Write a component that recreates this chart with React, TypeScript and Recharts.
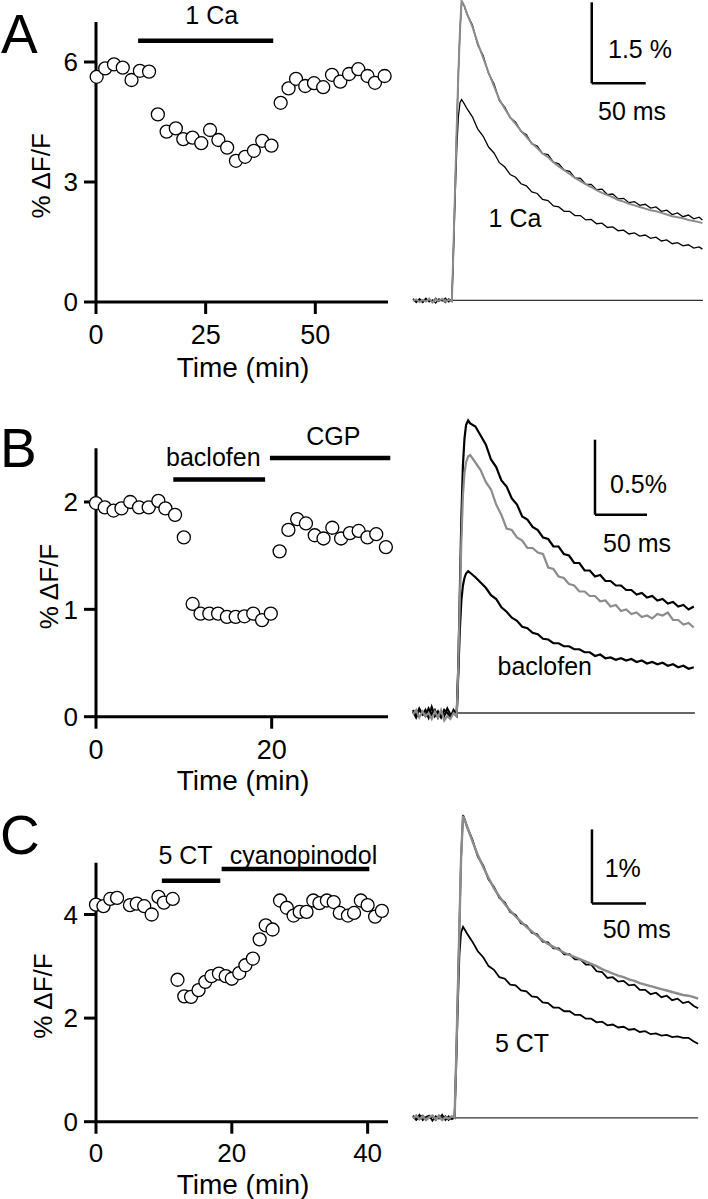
import React from 'react';
import { ScatterChart, Scatter, LineChart, Line, XAxis, YAxis, ReferenceLine, ReferenceDot } from 'recharts';

const FONT = '"Liberation Sans", Arial, Helvetica, sans-serif';

// ---------- Time courses: time (min) and % ΔF/F ----------
const minutesA = [0.15, 2.1, 4.1, 6.1, 8.1, 10.0, 12.1, 14.1, 16.1, 18.2, 19.9, 22.0, 24.0, 26.0, 27.9, 29.9, 31.9, 34.0, 36.0, 37.9, 40.0, 42.1, 43.9, 45.6, 47.7, 49.7, 51.8, 53.8, 55.7, 57.7, 59.8, 61.9, 63.6, 65.8];
const dffA = [5.63, 5.84, 5.94, 5.86, 5.55, 5.78, 5.76, 4.69, 4.26, 4.34, 4.07, 4.11, 3.97, 4.30, 4.05, 3.86, 3.53, 3.63, 3.78, 4.03, 3.91, 4.98, 5.34, 5.58, 5.40, 5.47, 5.37, 5.68, 5.51, 5.70, 5.82, 5.65, 5.48, 5.65];

const minutesB = [0, 1.0, 2.0, 2.9, 3.9, 4.9, 6.0, 7.1, 7.9, 9.0, 10.0, 11.0, 11.9, 12.9, 13.9, 14.9, 15.9, 16.9, 17.9, 18.9, 19.9, 20.9, 21.9, 22.9, 23.9, 24.9, 25.9, 26.9, 27.9, 28.9, 29.9, 30.9, 31.9, 33.0];
const dffB = [1.99, 1.95, 1.92, 1.94, 2.0, 1.95, 1.95, 2.01, 1.94, 1.88, 1.67, 1.05, 0.96, 0.96, 0.96, 0.93, 0.93, 0.935, 0.96, 0.9, 0.96, 1.54, 1.74, 1.84, 1.8, 1.69, 1.66, 1.76, 1.66, 1.71, 1.73, 1.67, 1.7, 1.58];

const minutesC = [0, 1.1, 2.1, 3.1, 5.0, 6.0, 7.1, 8.2, 9.2, 10.0, 11.3, 12.0, 13.0, 14.0, 15.1, 16.1, 17.0, 18.1, 19.1, 20.0, 21.1, 22.0, 23.1, 24.1, 25.0, 26.0, 27.1, 28.1, 29.1, 30.0, 31.0, 32.0, 32.9, 34.0, 35.0, 35.9, 37.1, 38.0, 39.0, 40.0, 41.1, 42.1];
const dffC = [4.19, 4.16, 4.3, 4.32, 4.18, 4.21, 4.16, 4.0, 4.34, 4.23, 4.3, 2.74, 2.42, 2.41, 2.54, 2.7, 2.81, 2.86, 2.81, 2.76, 2.87, 3.02, 3.15, 3.52, 3.79, 3.71, 4.27, 4.13, 3.98, 4.05, 4.05, 4.27, 4.22, 4.27, 4.24, 4.03, 3.98, 4.03, 4.27, 4.18, 3.96, 4.07];

const xTicksA = [0, 25, 50];
const yTicksA = [0, 3, 6];
const xTicksB = [0, 20];
const yTicksB = [0, 1, 2];
const xTicksC = [0, 20, 40];
const yTicksC = [0, 2, 4];

// drug bars: label, start (min), end (min), level (% ΔF/F)
const barsA = [{ label: '1 Ca', from: 9.6, to: 40.4, level: 6.53 }];
const barsB = [
  { label: 'baclofen', from: 8.8, to: 19.25, level: 2.21 },
  { label: 'CGP', from: 19.8, to: 33.5, level: 2.41 },
];
const barsC = [
  { label: '5 CT', from: 9.7, to: 18.3, level: 4.65 },
  { label: 'cyanopinodol', from: 18.5, to: 40.25, level: 4.88 },
];

// ---------- Fluorescence traces: time (ms) and % ΔF/F ----------
const traceTimeA = [0, 3, 6, 9, 12, 15, 18, 21, 24, 27, 30, 33, 36, 37.5, 39, 40.5, 42, 43.5, 45, 47.5, 50, 55, 60, 65, 70, 75, 80, 85, 90, 95, 100, 105, 110, 115, 120, 125, 130, 135, 140, 145, 150, 155, 160, 165, 170, 175, 180, 185, 190, 195, 200, 205, 210, 215, 220, 225, 230, 235, 240, 245, 250, 255, 260, 265, 268];
const controlA = [0.02, -0.04, 0.03, -0.02, 0.04, -0.03, 0.01, -0.05, 0.03, -0.01, 0.04, -0.03, 0.0, 1.0, 2.1, 3.2, 4.2, 5.0, 5.52, 5.45, 5.3, 5.1, 4.73, 4.53, 4.2, 4.01, 3.7, 3.58, 3.38, 3.3, 3.13, 3.07, 2.9, 2.86, 2.72, 2.7, 2.56, 2.53, 2.41, 2.39, 2.27, 2.26, 2.15, 2.15, 2.05, 2.06, 1.96, 1.97, 1.88, 1.89, 1.81, 1.83, 1.76, 1.78, 1.71, 1.73, 1.65, 1.67, 1.59, 1.62, 1.55, 1.58, 1.51, 1.54, 1.49];
const washA = [-0.01, 0.02, -0.03, 0.01, -0.02, 0.03, -0.04, 0.02, -0.01, 0.03, -0.02, 0.01, -0.02, 1.0, 2.1, 3.2, 4.2, 5.0, 5.55, 5.46, 5.31, 5.07, 4.76, 4.49, 4.22, 3.97, 3.72, 3.55, 3.39, 3.27, 3.14, 3.03, 2.91, 2.82, 2.72, 2.65, 2.56, 2.48, 2.41, 2.34, 2.27, 2.21, 2.15, 2.1, 2.04, 1.99, 1.95, 1.91, 1.86, 1.83, 1.79, 1.76, 1.73, 1.7, 1.67, 1.65, 1.62, 1.59, 1.56, 1.54, 1.52, 1.49, 1.47, 1.45, 1.43];
const drugA = [0.03, -0.02, 0.01, -0.04, 0.02, 0.0, -0.03, 0.04, -0.02, 0.02, -0.04, 0.03, -0.01, 0.9, 1.9, 2.8, 3.4, 3.66, 3.72, 3.64, 3.55, 3.4, 3.17, 3.04, 2.84, 2.73, 2.55, 2.47, 2.33, 2.28, 2.16, 2.12, 2.01, 1.98, 1.87, 1.85, 1.75, 1.73, 1.65, 1.65, 1.57, 1.57, 1.49, 1.5, 1.42, 1.43, 1.35, 1.36, 1.29, 1.3, 1.23, 1.25, 1.19, 1.21, 1.15, 1.17, 1.1, 1.12, 1.05, 1.07, 1.01, 1.03, 0.97, 0.99, 0.95];

const traceTimeB = [0, 3, 6, 9, 12, 15, 18, 21, 24, 27, 30, 33, 36, 39, 42, 43.5, 45, 46.5, 48, 49.5, 51, 53, 55, 60, 65, 70, 75, 80, 85, 90, 95, 100, 105, 110, 115, 120, 125, 130, 135, 140, 145, 150, 155, 160, 165, 170, 175, 180, 185, 190, 195, 200, 205, 210, 215, 220, 225, 230, 235, 240, 245, 250, 255, 260, 265, 270];
const controlB = [0.02, -0.02, 0.03, -0.01, 0.02, -0.03, 0.04, -0.02, 0.01, -0.03, 0.02, 0.0, -0.03, 0.02, -0.01, 0.3, 0.8, 1.3, 1.65, 1.83, 1.92, 1.95, 1.93, 1.91, 1.85, 1.79, 1.69, 1.64, 1.55, 1.51, 1.43, 1.39, 1.31, 1.29, 1.24, 1.22, 1.17, 1.16, 1.11, 1.11, 1.06, 1.05, 1.0, 1.0, 0.95, 0.95, 0.91, 0.92, 0.88, 0.88, 0.85, 0.85, 0.82, 0.82, 0.79, 0.8, 0.77, 0.78, 0.75, 0.76, 0.73, 0.74, 0.71, 0.72, 0.69, 0.71];
const washB = [-0.01, 0.02, -0.03, 0.01, -0.02, 0.0, -0.04, 0.01, -0.03, 0.02, -0.05, -0.02, -0.04, 0.0, -0.02, 0.3, 0.75, 1.15, 1.45, 1.6, 1.67, 1.71, 1.72, 1.67, 1.62, 1.54, 1.49, 1.39, 1.32, 1.23, 1.22, 1.17, 1.15, 1.1, 1.1, 1.07, 1.06, 0.97, 0.96, 0.91, 0.9, 0.86, 0.85, 0.81, 0.81, 0.78, 0.78, 0.745, 0.75, 0.71, 0.72, 0.68, 0.69, 0.66, 0.67, 0.64, 0.65, 0.63, 0.66, 0.65, 0.67, 0.62, 0.62, 0.59, 0.6, 0.57];
const drugB = [0.01, -0.03, 0.02, 0.0, -0.02, 0.03, -0.01, 0.02, -0.03, 0.01, -0.02, 0.03, -0.01, 0.0, -0.02, 0.25, 0.55, 0.75, 0.85, 0.9, 0.93, 0.945, 0.935, 0.905, 0.87, 0.835, 0.785, 0.76, 0.705, 0.675, 0.635, 0.615, 0.575, 0.565, 0.535, 0.525, 0.495, 0.49, 0.465, 0.465, 0.445, 0.445, 0.425, 0.425, 0.405, 0.405, 0.38, 0.39, 0.365, 0.37, 0.355, 0.365, 0.35, 0.36, 0.34, 0.35, 0.33, 0.34, 0.325, 0.335, 0.315, 0.325, 0.305, 0.315, 0.295, 0.305];

const traceTimeC = [0, 3, 6, 9, 12, 15, 18, 21, 24, 27, 30, 33, 36, 38.5, 40, 41.5, 43, 44.5, 46.3, 48, 50, 55, 60, 65, 70, 75, 80, 85, 90, 95, 100, 105, 110, 115, 120, 125, 130, 135, 140, 145, 150, 155, 160, 165, 170, 175, 180, 185, 190, 195, 200, 205, 210, 215, 220, 225, 230, 235, 240, 245, 250, 255, 260, 264];
const controlC = [0.03, -0.02, 0.04, -0.03, 0.01, 0.03, -0.04, 0.02, -0.01, 0.04, -0.03, 0.02, -0.02, 0.0, 0.8, 1.7, 2.6, 3.5, 4.09, 4.03, 3.93, 3.76, 3.53, 3.41, 3.22, 3.12, 2.97, 2.91, 2.78, 2.74, 2.63, 2.6, 2.5, 2.48, 2.38, 2.37, 2.29, 2.29, 2.21, 2.21, 2.14, 2.14, 2.07, 2.07, 1.98, 1.97, 1.89, 1.9, 1.84, 1.85, 1.79, 1.8, 1.73, 1.73, 1.67, 1.69, 1.63, 1.65, 1.59, 1.61, 1.55, 1.57, 1.51, 1.48];
const washC = [-0.01, 0.03, -0.02, 0.02, -0.03, 0.01, 0.03, -0.02, 0.02, -0.03, 0.01, -0.01, 0.02, 0.0, 0.8, 1.7, 2.6, 3.5, 4.08, 4.02, 3.94, 3.74, 3.55, 3.39, 3.24, 3.1, 2.99, 2.89, 2.8, 2.72, 2.65, 2.58, 2.52, 2.46, 2.4, 2.35, 2.31, 2.27, 2.23, 2.2, 2.17, 2.14, 2.11, 2.08, 2.05, 2.01, 1.98, 1.95, 1.92, 1.9, 1.87, 1.85, 1.82, 1.8, 1.78, 1.76, 1.74, 1.72, 1.7, 1.68, 1.66, 1.65, 1.63, 1.61];
const drugC = [0.02, -0.03, 0.01, 0.03, -0.02, 0.0, 0.02, -0.03, 0.03, -0.01, 0.02, -0.03, 0.01, 0.0, 0.7, 1.5, 2.2, 2.5, 2.58, 2.54, 2.49, 2.38, 2.25, 2.17, 2.05, 2.0, 1.9, 1.88, 1.8, 1.79, 1.72, 1.71, 1.64, 1.63, 1.56, 1.55, 1.49, 1.49, 1.44, 1.44, 1.39, 1.39, 1.34, 1.34, 1.29, 1.3, 1.25, 1.26, 1.22, 1.23, 1.19, 1.2, 1.16, 1.17, 1.13, 1.14, 1.11, 1.12, 1.09, 1.1, 1.08, 1.08, 1.03, 1.0];

// baseline extents (ms)
const baselineA = [34, 268.5];
const baselineB = [42, 271];
const baselineC = [38.6, 264];

// scale bars: origin time (ms), origin value (%), height (%), width (ms)
const scaleA = { t: 165.5, v: 4.02, dv: 1.5, dt: 50, vText: '1.5 %', tText: '50 ms' };
const scaleB = { t: 175, v: 1.322, dv: 0.5, dt: 50, vText: '0.5%', tText: '50 ms' };
const scaleC = { t: 165.7, v: 2.897, dv: 1, dt: 50, vText: '1%', tText: '50 ms' };

// trace annotations (ms, %)
const noteA = { text: '1 Ca', t: 94.4, v: 1.357 };
const noteB = { text: 'baclofen', t: 126.7, v: 0.255 };
const noteC = { text: '5 CT', t: 100.9, v: 0.89 };

// ---------- helpers ----------
const zip = (ts: number[], vs: number[]) => ts.map((t, i) => ({ t, v: vs[i] }));

const textAt = (value: string, dx: number, dy: number, anchor: string = 'start', size = 25) => (props: any) => {
  const vb = props.viewBox || { x: 0, y: 0 };
  return (
    <text x={vb.x + dx} y={vb.y + dy} textAnchor={anchor as any} fontSize={size} fontFamily={FONT} fill="#000">
      {value}
    </text>
  );
};

const xTitle = (dy: number) => (props: any) => {
  const vb = props.viewBox || { x: 0, y: 0, width: 0 };
  return (
    <text x={vb.x + vb.width / 2 + 1} y={vb.y + dy} textAnchor="middle" fontSize={28} fontFamily={FONT} fill="#000">
      Time (min)
    </text>
  );
};

const yTitle = (xb: number, shift: number) => (props: any) => {
  const vb = props.viewBox || { x: 0, y: 0, height: 0 };
  const cx = vb.x + xb;
  const cy = vb.y + vb.height / 2 + shift;
  return (
    <text x={cx} y={cy} transform={`rotate(-90 ${cx} ${cy})`} textAnchor="middle" fontSize={26} fontFamily={FONT} fill="#000">
      % ΔF/F
    </text>
  );
};

const Ring = (p: any) => <circle cx={p.cx} cy={p.cy} r={6.5} fill="#fff" stroke="#000" strokeWidth={1.3} />;

const AXIS = { stroke: '#000', strokeWidth: 3 };

type CourseCfg = {
  chartTop: number; height: number; plotTop: number; plotBottom: number;
  xMax: number; yMax: number; xTitleDy: number; yTitleX: number; yTitleShift: number;
  xTickMargin: number; xTickFont: number;
  barText: { dx: number; dy: number }[];
};

function Course({ cfg, times, values, xTicks, yTicks, bars }: any) {
  const c: CourseCfg = cfg;
  return (
    <div style={{ position: 'absolute', left: 0, top: c.chartTop }}>
      <ScatterChart width={400} height={c.height} margin={{ top: c.plotTop - c.chartTop, right: 12, bottom: 0, left: 0 }}>
        <XAxis
          type="number" dataKey="t" domain={[0, c.xMax]} ticks={xTicks} interval={0}
          height={c.chartTop + c.height - c.plotBottom} tickSize={12} tickMargin={c.xTickMargin}
          axisLine={AXIS} tickLine={AXIS} tick={{ fill: '#000', fontSize: c.xTickFont, fontFamily: FONT }}
          label={xTitle(c.xTitleDy)}
        />
        <YAxis
          type="number" dataKey="v" domain={[0, c.yMax]} ticks={yTicks} interval={0}
          width={96} tickSize={12} tickMargin={6}
          axisLine={AXIS} tickLine={AXIS} tick={{ fill: '#000', fontSize: 26, fontFamily: FONT }}
          label={yTitle(c.yTitleX, c.yTitleShift)}
        />
        {bars.map((b: any, i: number) => (
          <ReferenceLine
            key={b.label}
            segment={[{ x: b.from, y: b.level }, { x: b.to, y: b.level }]}
            stroke="#000" strokeWidth={4.5} ifOverflow="visible"
            label={textAt(b.label, c.barText[i].dx, c.barText[i].dy, 'middle', 25)}
          />
        ))}
        <Scatter data={zip(times, values)} shape={Ring} isAnimationActive={false} />
      </ScatterChart>
    </div>
  );
}

type TraceCfg = {
  plotLeft: number; plotRight: number; plotTop: number; plotBottom: number; yDomain: number[];
  blackWidth: number; grayWidth: number; baseWidth: number;
  vTextOff: number[]; tTextOff: number[];
};

function Traces({ cfg, times, control, wash, drug, base, scale, note }: any) {
  const c: TraceCfg = cfg;
  const pad = 20;
  return (
    <div style={{ position: 'absolute', left: c.plotLeft - pad, top: c.plotTop - pad }}>
      <LineChart
        width={c.plotRight - c.plotLeft + 2 * pad}
        height={c.plotBottom - c.plotTop + 2 * pad}
        margin={{ top: pad, right: pad, bottom: pad, left: pad }}
      >
        <XAxis type="number" dataKey="t" domain={[0, 270]} hide />
        <YAxis type="number" domain={c.yDomain} hide />
        <ReferenceLine
          segment={[{ x: base[0], y: 0 }, { x: base[1], y: 0 }]}
          stroke="#333" strokeWidth={c.baseWidth} ifOverflow="visible"
        />
        <Line data={zip(times, control)} dataKey="v" type="linear" stroke="#000" strokeWidth={c.blackWidth} dot={false} isAnimationActive={false} />
        <Line data={zip(times, drug)} dataKey="v" type="linear" stroke="#000" strokeWidth={c.blackWidth} dot={false} isAnimationActive={false} />
        <Line data={zip(times, wash)} dataKey="v" type="linear" stroke="#8c8c8c" strokeWidth={c.grayWidth} dot={false} isAnimationActive={false} />
        <ReferenceLine
          segment={[{ x: scale.t, y: scale.v }, { x: scale.t, y: scale.v + scale.dv }]}
          stroke="#000" strokeWidth={2.5} ifOverflow="visible"
          label={textAt(scale.vText, c.vTextOff[0], c.vTextOff[1], 'start', 25)}
        />
        <ReferenceLine
          segment={[{ x: scale.t, y: scale.v }, { x: scale.t + scale.dt, y: scale.v }]}
          stroke="#000" strokeWidth={2.5} ifOverflow="visible"
          label={textAt(scale.tText, c.tTextOff[0], c.tTextOff[1], 'start', 25)}
        />
        <ReferenceDot
          x={note.t} y={note.v} r={0} fill="none" stroke="none" ifOverflow="visible"
          label={textAt(note.text, 0, 0, 'middle', 25)}
        />
      </LineChart>
    </div>
  );
}

const cfgA: CourseCfg = { chartTop: 0, height: 392, plotTop: 22, plotBottom: 302, xMax: 66.57, yMax: 7, xTitleDy: 74.5, yTitleX: 50, yTitleShift: 13.8, xTickMargin: 11, xTickFont: 27, barText: [{ dx: 73.6, dy: -16.8 }] };
const cfgB: CourseCfg = { chartTop: 400, height: 398, plotTop: 448.3, plotBottom: 716.7, xMax: 33.24, yMax: 2.5, xTitleDy: 73.5, yTitleX: 58, yTitleShift: 4, xTickMargin: 11, xTickFont: 27, barText: [{ dx: 40, dy: -13.3 }, { dx: 63.4, dy: -12.7 }] };
const cfgC: CourseCfg = { chartTop: 800, height: 399, plotTop: 862.7, plotBottom: 1121.7, xMax: 43, yMax: 5, xTitleDy: 72, yTitleX: 51.7, yTitleShift: 3.8, xTickMargin: 10, xTickFont: 26, barText: [{ dx: 23.6, dy: -16.7 }, { dx: 81.9, dy: -5 }] };

const tcfgA: TraceCfg = { plotLeft: 413, plotRight: 704.6, plotTop: -2.4, plotBottom: 316.2, yDomain: [-0.3, 5.6], blackWidth: 1.3, grayWidth: 2, baseWidth: 1.2, vTextOff: [16.3, 56], tTextOff: [6.3, 37] };
const tcfgB: TraceCfg = { plotLeft: 413, plotRight: 693.8, plotTop: 413.3, plotBottom: 728.3, yDomain: [-0.1, 2.0], blackWidth: 2.2, grayWidth: 2.2, baseWidth: 1.4, vTextOff: [15, 53], tTextOff: [8, 37] };
const tcfgC: TraceCfg = { plotLeft: 413.3, plotRight: 704.9, plotTop: 806.9, plotBottom: 1132.5, yDomain: [-0.2, 4.2], blackWidth: 1.8, grayWidth: 2.4, baseWidth: 1.3, vTextOff: [12.7, 47.4], tTextOff: [10.7, 35] };

export default function App() {
  return (
    <div style={{ position: 'absolute', left: 0, top: 0, width: 708, height: 1199, overflow: 'hidden', background: '#fff', fontFamily: FONT }}>
      <Course cfg={cfgA} times={minutesA} values={dffA} xTicks={xTicksA} yTicks={yTicksA} bars={barsA} />
      <Course cfg={cfgB} times={minutesB} values={dffB} xTicks={xTicksB} yTicks={yTicksB} bars={barsB} />
      <Course cfg={cfgC} times={minutesC} values={dffC} xTicks={xTicksC} yTicks={yTicksC} bars={barsC} />
      <Traces cfg={tcfgA} times={traceTimeA} control={controlA} wash={washA} drug={drugA} base={baselineA} scale={scaleA} note={noteA} />
      <Traces cfg={tcfgB} times={traceTimeB} control={controlB} wash={washB} drug={drugB} base={baselineB} scale={scaleB} note={noteB} />
      <Traces cfg={tcfgC} times={traceTimeC} control={controlC} wash={washC} drug={drugC} base={baselineC} scale={scaleC} note={noteC} />
      <svg width={708} height={1199} style={{ position: 'absolute', left: 0, top: 0, pointerEvents: 'none' }}>
        <text x={1} y={53} fontSize={55} fontFamily={FONT} fill="#000">A</text>
        <text x={0} y={466.7} fontSize={55} fontFamily={FONT} fill="#000">B</text>
        <text x={0} y={854} fontSize={55} fontFamily={FONT} fill="#000">C</text>
      </svg>
    </div>
  );
}
